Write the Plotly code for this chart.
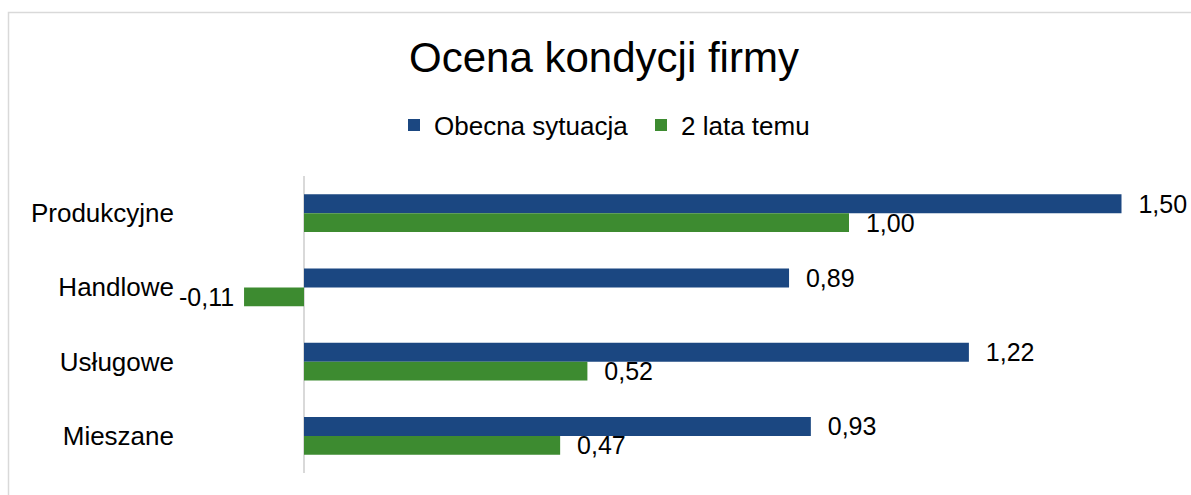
import plotly.graph_objects as go

categories = ["Produkcyjne", "Handlowe", "Usługowe", "Mieszane"]
obecna = [1.50, 0.89, 1.22, 0.93]
dwa_lata = [1.00, -0.11, 0.52, 0.47]
series_names = ["Obecna sytuacja", "2 lata temu"]
title_text = "Ocena kondycji firmy"

BLUE = "#1B4781"
GREEN = "#3D8B30"
FONT = "Liberation Sans, Arial, sans-serif"


def labels(vals):
    out = []
    for v in vals:
        s = f"{v:.2f}".replace(".", ",")
        out.append(("  " + s) if v >= 0 else (s + " "))
    return out


fig = go.Figure()
for name, vals, col in [(series_names[0], obecna, BLUE), (series_names[1], dwa_lata, GREEN)]:
    fig.add_trace(go.Bar(
        y=categories, x=vals, name=name, orientation="h",
        marker=dict(color=col, line=dict(width=0)),
        text=labels(vals), textposition="outside", cliponaxis=False,
        constraintext="none",
        textfont=dict(family=FONT, size=25, color="#000000"),
    ))

# page body margin is removed below, so figure coordinates = screen coordinates
W, H = 1191, 495
L = 195
T = 176
B = H - 473
R = W - 1187
pw, ph = W - L - R, H - T - B
ppu = 545.0
xmin = -(304 - L) / ppu
xmax = xmin + pw / ppu

fig.update_layout(
    width=W, height=H,
    margin=dict(l=L, r=R, t=T, b=B, autoexpand=False),
    paper_bgcolor="white", plot_bgcolor="white",
    separators=", ",
    barmode="group", bargap=0.489, bargroupgap=0,
    title=dict(text=title_text, font=dict(family=FONT, size=42, color="#000000"),
               x=604 / W, xanchor="center", yref="container",
               y=1 - 57 / H, yanchor="middle"),
    legend=dict(orientation="h", font=dict(family=FONT, size=26, color="#000000"),
                x=(394 - L) / pw, xanchor="left", y=(473 - 125) / ph, yanchor="middle",
                bgcolor="rgba(0,0,0,0)", itemclick=False, entrywidth=202),
    xaxis=dict(range=[xmin, xmax], showgrid=False, showticklabels=False, ticks="",
               zeroline=True, zerolinecolor="#D9D9D9", zerolinewidth=2, showline=False),
    yaxis=dict(autorange="reversed", showgrid=False, ticks="", showline=False,
               tickfont=dict(family=FONT, size=26, color="#000000"), ticklabelstandoff=20),
    showlegend=True,
    shapes=[dict(type="rect", xref="paper", yref="paper",
                 x0=(8.5 - L) / pw, x1=(W + 20 - L) / pw,
                 y0=-(B + 20) / ph, y1=(H - B - 12.5) / ph,
                 line=dict(color="#D9D9D9", width=1.5), fillcolor="rgba(0,0,0,0)", layer="below")],
)

fig.write_html(
    "out.html",
    config={"displayModeBar": False},
    post_script="document.body.style.margin='0px';document.body.style.overflow='hidden';",
)
